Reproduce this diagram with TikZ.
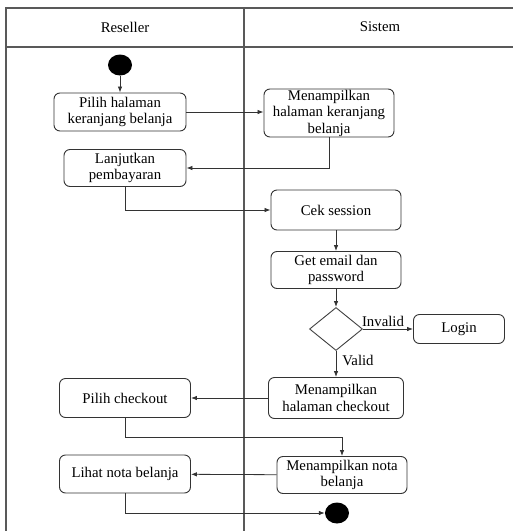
\documentclass[tikz,border=0pt]{standalone}
\usepackage{fontspec}
\setmainfont{Liberation Serif}
\newfontfamily\diagfont{Liberation Serif}
\usetikzlibrary{shapes.geometric,arrows.meta}
\begin{document}
\begin{tikzpicture}[x=1pt,y=-1pt,
  font=\diagfont\fontsize{14.8}{16.5}\selectfont,
  lane/.style={draw=black!65, line width=1.1pt},
  act/.style={draw=black!80, line width=0.9pt, rounded corners=6pt, align=center, inner sep=0pt, fill=white},
  decision/.style={draw=black!75, line width=0.9pt, diamond, shape aspect=1.2, inner sep=0pt, fill=white},
  dot/.style={ellipse, fill=black, inner sep=0pt, minimum width=24pt, minimum height=21pt},
  flow/.style={draw=black!80, line width=0.8pt, -{Latex[length=6pt,width=4.5pt]}},
  guard/.style={inner sep=0pt}
]
\useasboundingbox (0,0) rectangle (513,531);

% swimlane frame
\draw[lane] (513,8) -- (6,8) -- (6,531);
\draw[lane] (6,47) -- (513,47);
\draw[lane] (244,8) -- (244,531);
\node (hres) at (125,27) {Reseller};
\node (hsis) at (380,27) {Sistem};

% activities
\node[dot] (start) at (120,65) {};
\node[act, minimum width=132pt, minimum height=38pt] (pilih) at (120,112) {Pilih halaman\\keranjang belanja};
\node[act, minimum width=130pt, minimum height=48pt] (tampil) at (329,113) {Menampilkan\\halaman keranjang\\belanja};
\node[act, minimum width=122pt, minimum height=37pt] (lanjut) at (125,168) {Lanjutkan\\pembayaran};
\node[act, minimum width=130pt, minimum height=40pt] (cek) at (336,210) {Cek session};
\node[act, minimum width=130pt, minimum height=37pt] (email) at (336,270) {Get email dan\\password};
\node[decision, minimum width=53pt, minimum height=43pt] (dec) at (336,329) {};
\node[act, minimum width=91pt, minimum height=29pt] (login) at (459,329) {Login};
\node[act, minimum width=135pt, minimum height=41pt] (tampilco) at (336,398) {Menampilkan\\halaman checkout};
\node[act, minimum width=131pt, minimum height=39pt] (pilihco) at (125,398) {Pilih checkout};
\node[act, minimum width=130pt, minimum height=37pt] (nota) at (342,475) {Menampilkan nota\\belanja};
\node[act, minimum width=131pt, minimum height=38pt] (lihat) at (125,474) {Lihat nota belanja};
\node[dot] (end) at (337,513) {};

% guard labels
\node[guard] (invalid) at (383,321) {Invalid};
\node[guard] (valid) at (358,360) {Valid};

% control flow
\draw[flow] (start) -- (pilih);
\draw[flow] (pilih) -- (pilih -| tampil.west);
\draw[flow] (tampil.south) |- (lanjut.east);
\draw[flow] (lanjut.south) |- (cek.west);
\draw[flow] (cek) -- (email);
\draw[flow] (email) -- (dec);
\draw[flow] (dec) -- (login);
\draw[flow] (dec) -- (tampilco);
\draw[flow] (tampilco) -- (pilihco);
\draw[flow] (pilihco.south) -- ++(0,19) -| (nota.north);
\draw[flow] (nota) -- (lihat);
\draw[flow] (lihat.south) |- (end.west);
\end{tikzpicture}
\end{document}
